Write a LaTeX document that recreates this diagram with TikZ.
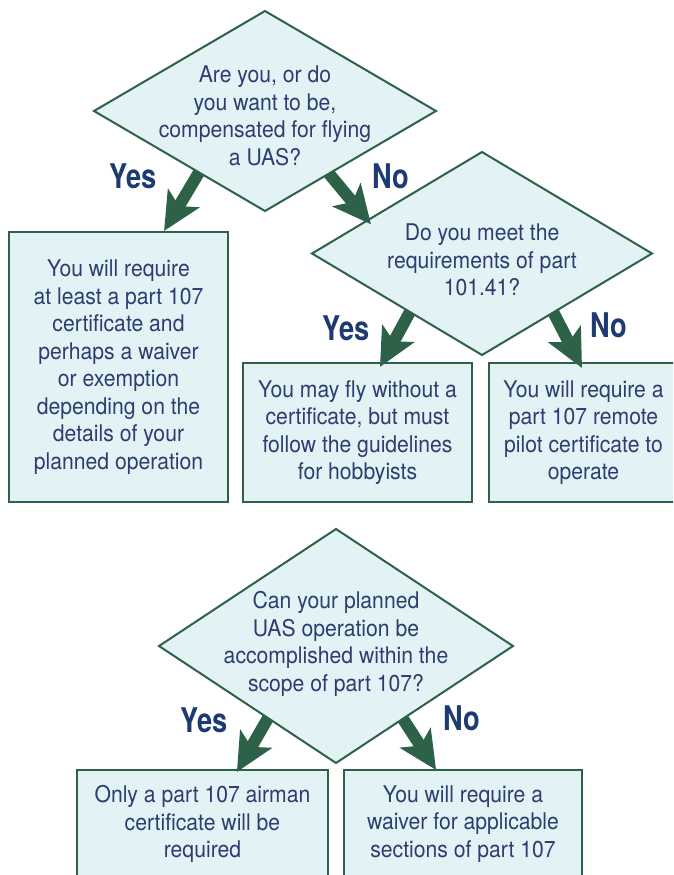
\documentclass[tikz,border=0pt]{standalone}
\usepackage{fontspec}
\setmainfont{TeX Gyre Heros}[FakeStretch=0.92]
\newfontfamily\condbold{TeX Gyre Heros}[FakeStretch=0.8]
\usetikzlibrary{shapes.geometric,arrows.meta,calc}
\definecolor{boxfill}{HTML}{E3F2F5}
\definecolor{edgegreen}{HTML}{2D6148}
\definecolor{txtblue}{HTML}{2A3F6F}
\definecolor{ansblue}{HTML}{1E3A72}
\begin{document}
\begin{tikzpicture}[x=1pt,y=-1pt,
  decision/.style={diamond, draw=edgegreen, fill=boxfill, line width=2pt, inner sep=0pt, outer sep=0pt},
  outcome/.style={rectangle, draw=edgegreen, fill=boxfill, line width=2.5pt, inner sep=0pt, outer sep=0pt, text=txtblue, align=center, font=\fontsize{23}{27.5}\selectfont},
  qtext/.style={text=txtblue, align=center, inner sep=0pt, font=\fontsize{23}{27.5}\selectfont},
  answer/.style={text=ansblue, inner sep=0pt, font=\condbold\bfseries\fontsize{34}{36}\selectfont},
  bigarrow/.style={draw=edgegreen, line width=12pt, -{Stealth[length=38pt,width=36pt,inset=9pt]}}]
\useasboundingbox (0,0) rectangle (673,875);
\begin{scope}
\clip (0,0) rectangle (673,875);
% decisions
\node[decision, minimum width=342pt, minimum height=200pt] (d1) at (265,111) {};
\node[qtext] (d1t) at (265,116) {Are you, or do\\you want to be,\\compensated for flying\\a UAS?};
\node[decision, minimum width=340pt, minimum height=203pt] (d2) at (482,253.5) {};
\node[qtext] (d2t) at (482,260) {Do you meet the\\requirements of part\\101.41?};
\node[decision, minimum width=354pt, minimum height=234pt] (d3) at (336,646) {};
\node[qtext] (d3t) at (336,644) {Can your planned\\UAS operation be\\accomplished within the\\scope of part 107?};
% outcomes
\node[outcome, minimum width=219pt, minimum height=270pt] (b1) at (118.5,367) {You will require\\at least a part 107\\certificate and\\perhaps a waiver\\or exemption\\depending on the\\details of your\\planned operation};
\node[outcome, minimum width=229pt, minimum height=139pt] (b2) at (357.5,432.5) {You may fly without a\\certificate, but must\\follow the guidelines\\for hobbyists};
\node[outcome, minimum width=189pt, minimum height=139pt] (b3) at (583.5,432.5) {You will require a\\part 107 remote\\pilot certificate to\\operate};
\node[outcome, minimum width=251pt, minimum height=108pt] (b4) at (202.5,824) {Only a part 107 airman\\certificate will be\\required};
\node[outcome, minimum width=238pt, minimum height=108pt] (b5) at (463,824) {You will require a\\waiver for applicable\\sections of part 107};
% connectors
\draw[bigarrow] ($(d1.west)!0.614!(d1.south)$) -- ($(b1.north west)!0.708!(b1.north east)+(0,-1)$);
\draw[bigarrow] ($(d1.south)!0.374!(d1.east)$) -- ($(d2.west)!0.347!(d2.north)+(0,6)$);
\draw[bigarrow] ($(d2.west)!0.576!(d2.south)$) -- ($(b2.north west)!0.598!(b2.north east)+(0,4)$);
\draw[bigarrow] ($(d2.south)!0.42!(d2.east)$) -- ($(b3.north west)!0.492!(b3.north east)+(0,5)$);
\draw[bigarrow] ($(d3.west)!0.616!(d3.south)$) -- ($(b4.north west)!0.637!(b4.north east)+(0,2)$);
\draw[bigarrow] ($(d3.south)!0.378!(d3.east)$) -- ($(b5.north west)!0.387!(b5.north east)$);
% answers
\node[answer] (y1) at (133,176) {Yes};
\node[answer] (n1) at (391,176) {No};
\node[answer] (y2) at (346,328) {Yes};
\node[answer] (n2) at (609,325) {No};
\node[answer] (y3) at (204,720) {Yes};
\node[answer] (n3) at (462,718) {No};
\end{scope}
\end{tikzpicture}
\end{document}
